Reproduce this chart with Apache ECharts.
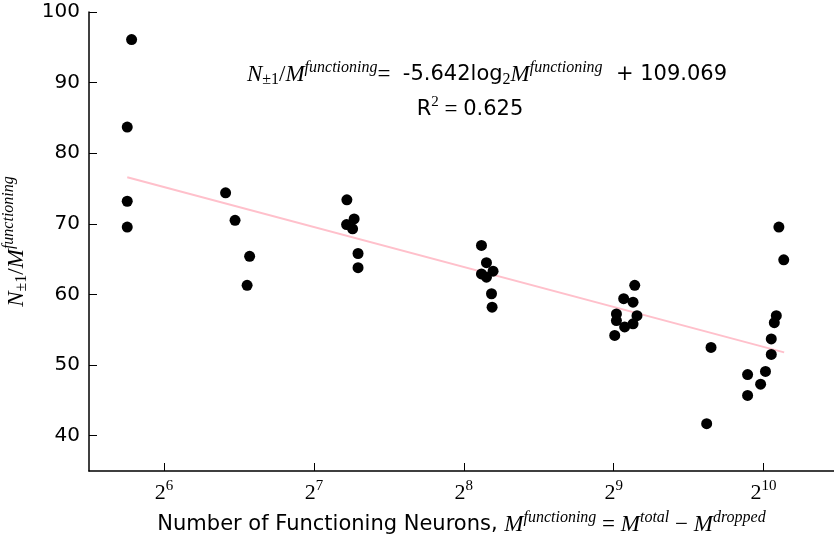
<!DOCTYPE html>
<html>
<head>
<meta charset="utf-8">
<script src="https://cdn.jsdelivr.net/npm/echarts@6/dist/echarts.min.js"></script>
<style>
  html, body { margin: 0; padding: 0; background: #fff; }
  #chart { width: 834px; height: 535px; }
</style>
</head>
<body>
<div id="chart"></div>
<script>
// functioning neurons (x) and N±1 / M (y)
var neurons = [
  55.1, 54.0, 54.0, 54.0,
  85.1, 88.9, 95.1, 94.0,
  149.1, 154.2, 148.9, 153.1, 157.0, 157.0,
  277.8, 284.3, 277.8, 293.1, 284.3, 291.0, 291.8,
  564.3, 536.2, 559.9, 570.2, 518.5, 518.5, 538.6, 559.9, 514.4,
  1099, 1124, 1086, 1076, 1061, 803, 1061, 1033, 951, 1010, 951, 787
]
var ratio = [
  96.1, 83.7, 73.2, 69.55,
  74.4, 70.5, 65.4, 61.3,
  73.4, 70.7, 69.9, 69.3, 65.8, 63.8,
  66.95, 64.5, 62.9, 63.3, 62.45, 60.1, 58.2,
  61.3, 59.4, 58.9, 57.0, 57.25, 56.3, 55.4, 55.85, 54.2,
  69.55, 64.9, 57.0, 56.0, 53.7, 52.5, 51.5, 49.1, 48.65, 47.3, 45.7, 41.7
]
// end points of the fitted line (x, y)
var fitX = [54, 1126]
var fitY = [76.6, 51.8]

var chart = echarts.init(document.getElementById('chart'))

var sans = 'DejaVu Sans'
var serif = 'Liberation Serif'
var mathRich = {
  i: { fontFamily: serif, fontStyle: 'italic', fontSize: 23, color: '#000' },
  n: { fontFamily: serif, fontSize: 23, color: '#000' },
  s: { fontFamily: sans, fontSize: 21, color: '#000' },
  sx: { fontFamily: sans, fontSize: 21, color: '#000' },
  sup: { fontFamily: serif, fontStyle: 'italic', fontSize: 16, color: '#000', padding: [0, 0, 15, 0] },
  supn: { fontFamily: serif, fontSize: 15, color: '#000', padding: [0, 0, 15, 0] },
  sub: { fontFamily: serif, fontSize: 16, color: '#000', padding: [10, 0, 0, 0] }
}

var points = []
for (var k = 0; k < neurons.length; k++) points.push([neurons[k], ratio[k]])
var fitLine = []
for (var j = 0; j < fitX.length; j++) fitLine.push([fitX[j], fitY[j]])

var option = {
  backgroundColor: '#fff',
  animation: false,
  grid: { left: 89, right: 0, top: 12, bottom: 64, containLabel: false, outerBoundsMode: 'none' },
  xAxis: {
    type: 'log',
    logBase: 2,
    min: 45.25,
    max: 1418,
    splitLine: { show: false },
    axisLine: { lineStyle: { color: '#000', width: 1.5 } },
    axisTick: { inside: true, length: 8, lineStyle: { color: '#000', width: 1 } },
    axisLabel: {
      showMinLabel: false,
      showMaxLabel: false,
      margin: 8,
      formatter: function (v) {
        return '{b|2}{e|' + Math.round(Math.log2(v)) + '}'
      },
      rich: {
        b: { fontFamily: serif, fontSize: 22, color: '#000' },
        e: { fontFamily: serif, fontSize: 15, color: '#000', padding: [0, 0, 14, 0] }
      }
    },
    name: '{sx|Number of Functioning Neurons, }{i|M}{sup|functioning}{n| = }{i|M}{sup|total}{n| − }{i|M}{sup|dropped}',
    nameLocation: 'middle',
    nameGap: 37,
    nameTextStyle: { rich: mathRich }
  },
  yAxis: {
    type: 'value',
    min: 35,
    max: 100,
    splitLine: { show: false },
    axisLine: { lineStyle: { color: '#000', width: 1.5 } },
    axisTick: { inside: true, length: 8, lineStyle: { color: '#000', width: 1 } },
    axisLabel: { showMinLabel: false, margin: 9, fontFamily: sans, fontSize: 20, color: '#000' },
    name: '{i|N}{sub|±1}{n|/}{i|M}{sup|functioning}',
    nameLocation: 'middle',
    nameRotate: 90,
    nameGap: 57,
    nameTextStyle: { rich: mathRich }
  },
  graphic: [
    {
      type: 'text',
      x: 487, y: 75,
      style: {
        text: '{i|N}{sub|±1}{n|/}{i|M}{sup|functioning}{n|= }{s| -5.642log}{sub|2}{i|M}{sup|functioning}{s|  + 109.069}',
        rich: mathRich,
        align: 'center',
        verticalAlign: 'middle'
      }
    },
    {
      type: 'text',
      x: 470, y: 110,
      style: {
        text: '{s|R}{supn|2}{n| = }{s|0.625}',
        rich: mathRich,
        align: 'center',
        verticalAlign: 'middle'
      }
    }
  ],
  series: [
    {
      type: 'line',
      data: fitLine,
      symbol: 'none',
      lineStyle: { color: '#ffc0cb', width: 2 },
      z: 1
    },
    {
      type: 'scatter',
      data: points,
      symbolSize: 11,
      itemStyle: { color: '#000', opacity: 1 },
      z: 2
    }
  ]
}

chart.setOption(option)
</script>
</body>
</html>
